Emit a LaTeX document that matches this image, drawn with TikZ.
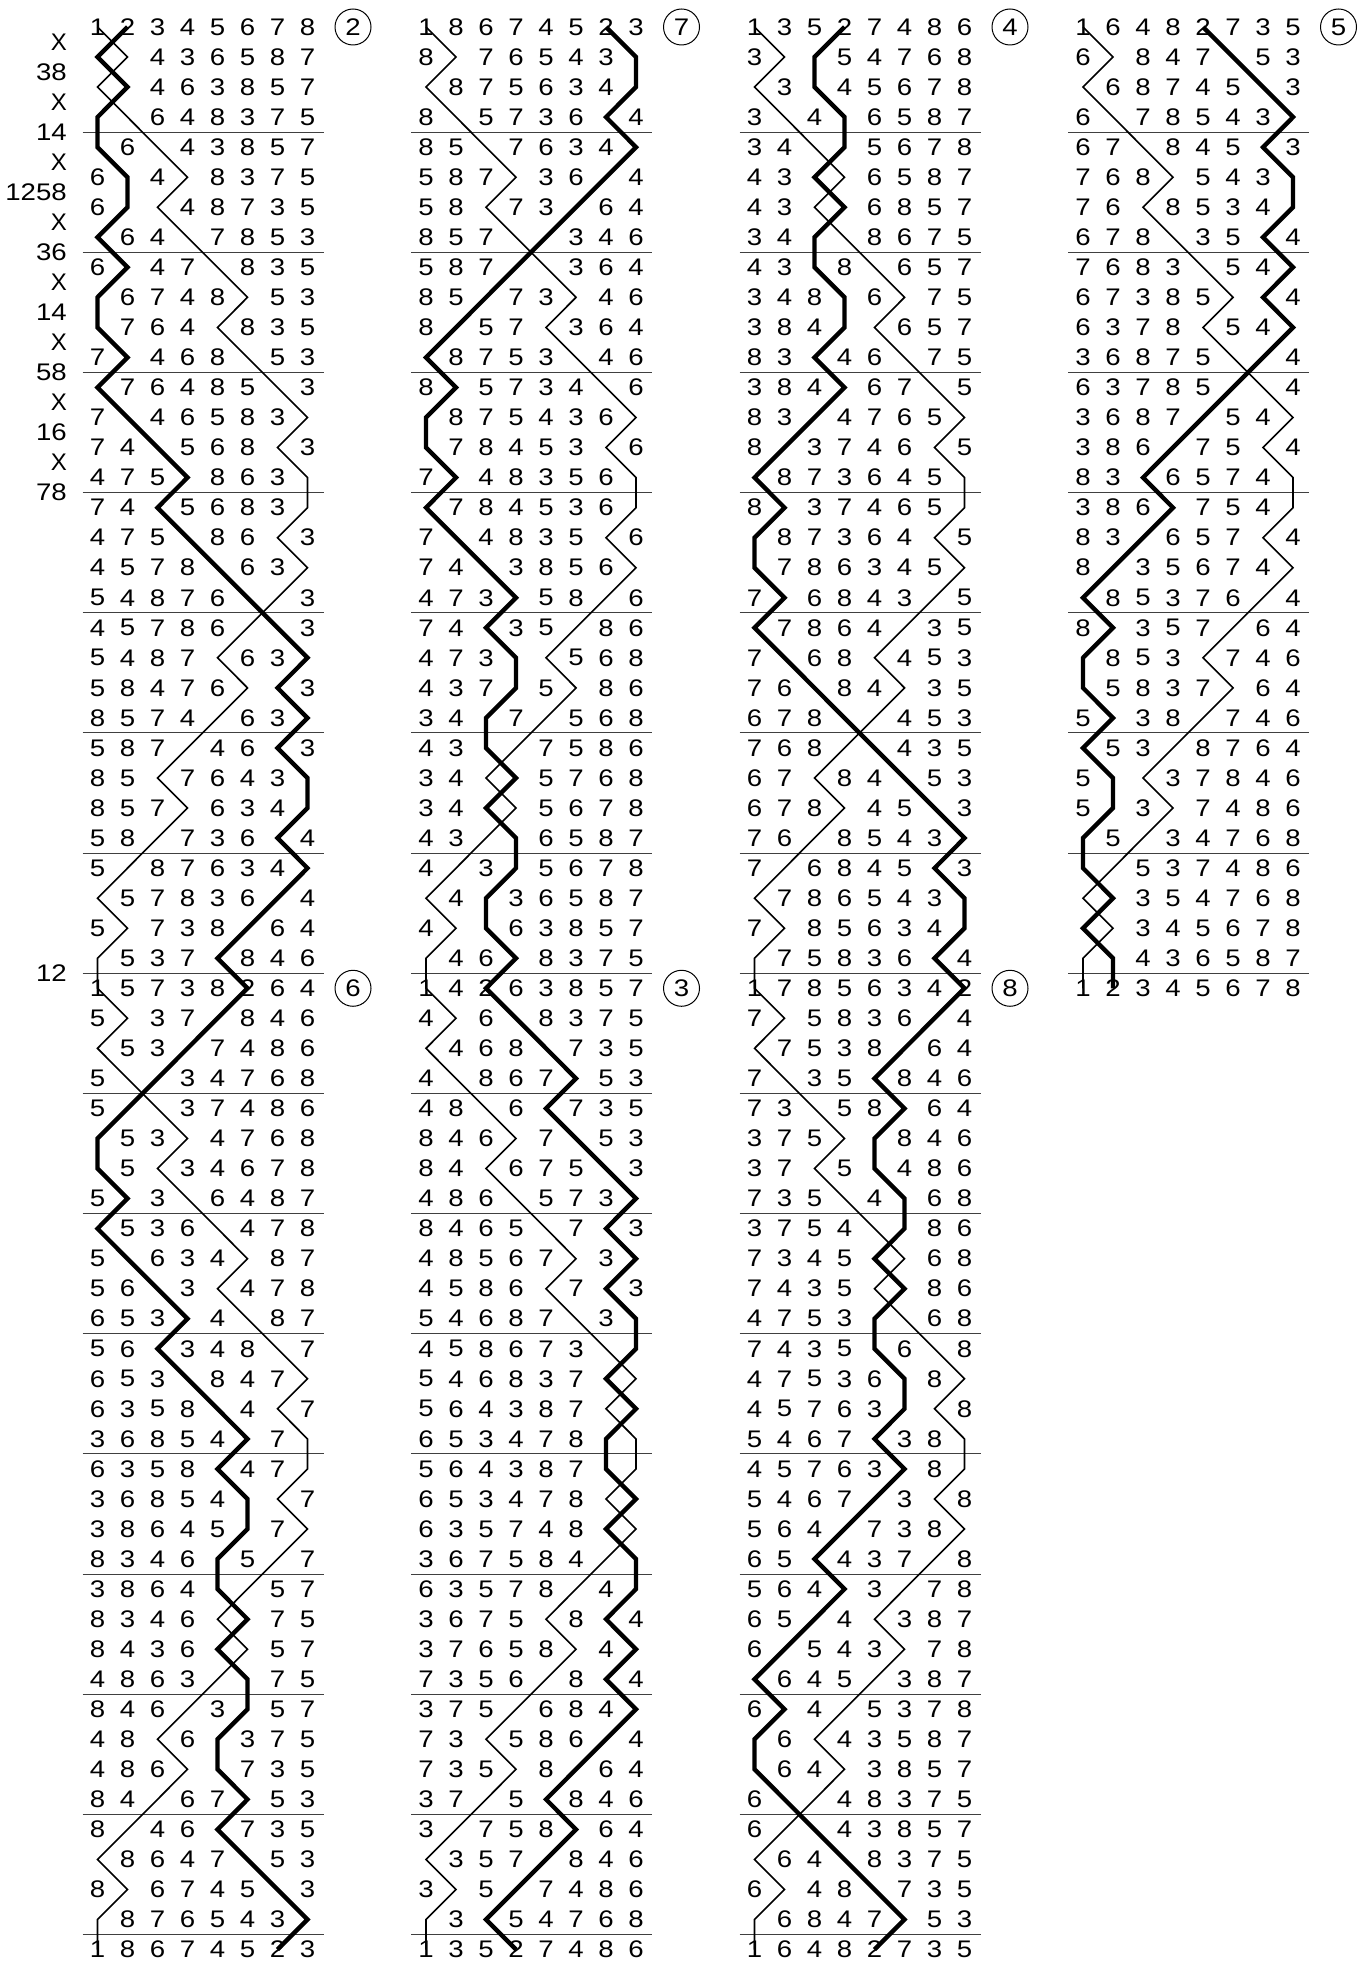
\documentclass[tikz,border=0pt]{standalone}
\usepackage{fontspec}
\setmainfont{Liberation Sans}
\newif\ifleadhead
\newcount\rowN
\newcount\cc
\newcount\kk
\newcount\tmpc
\def\setR#1#2{\expandafter\xdef\csname Rb#1\endcsname{#2}}
\def\getR#1{\csname Rb#1\endcsname}
\def\swp#1{%
  \edef\tmpa{\getR{#1}}%
  \edef\tmpb{\getR{\the\numexpr#1+1\relax}}%
  \setR{#1}{\tmpb}%
  \setR{\the\numexpr#1+1\relax}{\tmpa}}
% place notation of Cambridge Surprise Major
\def\chX{\swp1\swp3\swp5\swp7}% X
\def\chA{\swp1\swp4\swp6}% 38
\def\chB{\swp2\swp5\swp7}% 14
\def\chC{\swp3\swp6}% 1258
\def\chD{\swp1\swp4\swp7}% 36
\def\chE{\swp1\swp3\swp6}% 58
\def\chF{\swp2\swp4\swp7}% 16
\def\chG{\swp1\swp3\swp5}% 78
\def\chH{\swp3\swp5\swp7}% 12
\newcommand\wdg[1]{\scalebox{1.15}[1]{#1}}
\tikzset{
  dig/.style={font=\fontsize{24}{24}\selectfont, inner sep=0pt, anchor=center},
  lbl/.style={font=\fontsize{24}{24}\selectfont, inner sep=0pt, anchor=east},
  circ/.style={draw, circle, minimum size=36pt, inner sep=0pt, line width=1pt,
    font=\fontsize{24}{24}\selectfont},
  rulel/.style={line width=1pt, black!75},
  bellone/.style={line width=1.6pt, line join=miter},
  belltwo/.style={line width=4.4pt, line join=miter},
}
\def\emitrow#1#2{%
  \leadheadfalse
  \ifnum#2=0 \leadheadtrue\fi
  \ifnum#2=32 \leadheadtrue\fi
  \ifnum#2=64 \leadheadtrue\fi
  \foreach \pl in {1,...,8}{%
    \edef\bl{\csname Rb\pl\endcsname}%
    \ifnum\bl=1 \xdef\posA{\pl}\fi
    \ifnum\bl=2 \xdef\posB{\pl}\fi
    \ifleadhead
      \node[dig, name=d-#1-#2-\pl] at ({97.5+328.5*#1+30*(\pl-1)},{27+30.04*#2}) {\wdg{\bl}};%
    \else
      \ifnum\bl>2
        \node[dig, name=d-#1-#2-\pl] at ({97.5+328.5*#1+30*(\pl-1)},{27+30.04*#2}) {\wdg{\bl}};%
      \fi
    \fi
  }%
  \pgfmathsetmacro\xa{97.5+328.5*#1+30*(\posA-1)}%
  \pgfmathsetmacro\xb{97.5+328.5*#1+30*(\posB-1)}%
  \pgfmathsetmacro\yy{27+30.04*#2}%
  \ifnum#2=0
    \xdef\pathA{(\xa,\yy)}\xdef\pathB{(\xb,\yy)}%
  \else
    \xdef\pathA{\pathA -- (\xa,\yy)}\xdef\pathB{\pathB -- (\xb,\yy)}%
  \fi
  \tmpc=#2 \divide\tmpc by 4 \multiply\tmpc by 4
  \ifnum#2>0 \ifnum\tmpc=#2
    \draw[rulel] ({97.5+328.5*#1-15},{27+30.04*(#2-0.5)}) -- ++(241,0);
  \fi\fi
  \ifnum#2=0
    \node[circ, name=c-#1-#2] at ({97.5+328.5*#1+255.5},{27}) {\wdg{\posB}};
  \fi
  \ifnum#2=32 \ifnum#1<3
    \node[circ, name=c-#1-#2] at ({97.5+328.5*#1+255.5},{27+30.04*32}) {\wdg{\posB}};
  \fi\fi
}
\def\finishcol{%
  \edef\tmp{\noexpand\draw[bellone] \pathA; \noexpand\draw[belltwo] \pathB;}\tmp}
\def\processrow{%
  \cc=\rowN \divide\cc by 64
  \kk=\rowN \advance\kk by -\numexpr64*\cc\relax
  \edef\curc{\the\cc}\edef\curk{\the\kk}%
  \ifnum\curk=0 \ifnum\curc>0
    \edef\prevc{\the\numexpr\curc-1\relax}%
    \emitrow{\prevc}{64}\finishcol
  \fi\fi
  \emitrow{\curc}{\curk}%
}
\begin{document}
\begin{tikzpicture}[x=1pt,y=-1pt]
\useasboundingbox (0,0) rectangle (1358,1961);
% place notation labels
\foreach \t [count=\i from 0] in {X,\wdg{38},X,\wdg{14},X,\wdg{1258},X,\wdg{36},X,\wdg{14},X,\wdg{58},X,\wdg{16},X,\wdg{78}}{
  \node[lbl, name=pn\i] at (67,{27+30.04*(\i+0.5)}) {\t};
}
\node[lbl, name=pnle] at (67,{27+30.04*31.5}) {\wdg{12}};
% rows
\setR{1}{1}\setR{2}{2}\setR{3}{3}\setR{4}{4}\setR{5}{5}\setR{6}{6}\setR{7}{7}\setR{8}{8}
\global\rowN=0
\processrow
\foreach \lead in {1,...,7}{%
  \foreach \ch in {X,A,X,B,X,C,X,D,X,B,X,E,X,F,X,G,X,F,X,E,X,B,X,D,X,C,X,B,X,A,X,H}{%
    \csname ch\ch\endcsname
    \global\advance\rowN by 1
    \processrow
  }%
}
\finishcol
\end{tikzpicture}
\end{document}
